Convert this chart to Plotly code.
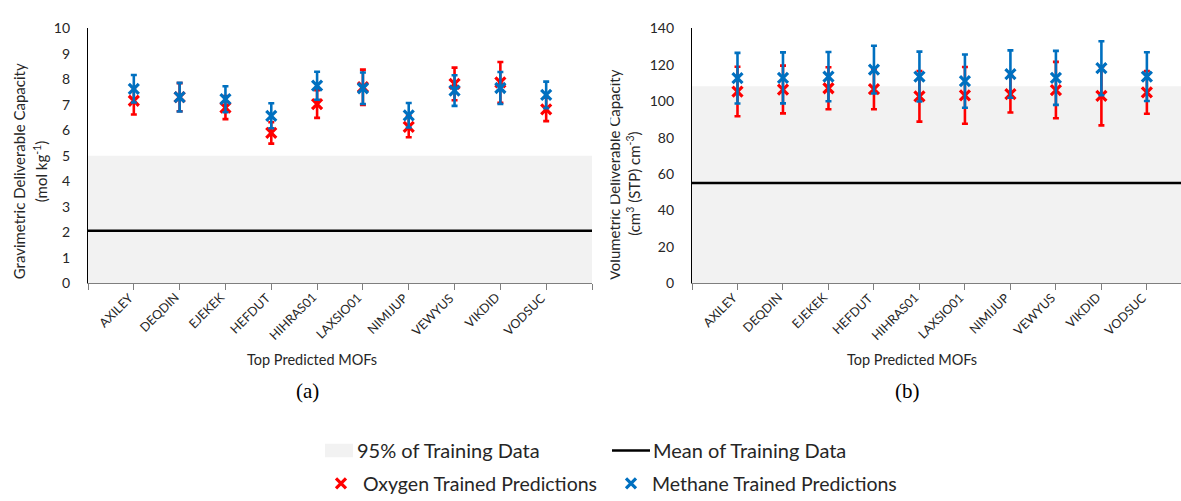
import plotly.graph_objects as go

W, H = 1181, 501

mofs = ["AXILEY", "DEQDIN", "EJEKEK", "HEFDUT", "HIHRAS01",
        "LAXSIO01", "NIMIJUP", "VEWYUS", "VIKDID", "VODSUC"]

# Gravimetric deliverable capacity (mol/kg)
grav_oxygen = [7.16, 7.30, 6.89, 5.90, 7.03, 7.69, 6.14, 7.82, 7.88, 6.82]
grav_oxygen_err = [0.54, 0.55, 0.45, 0.42, 0.54, 0.69, 0.41, 0.64, 0.80, 0.46]
grav_methane = [7.63, 7.30, 7.22, 6.57, 7.75, 7.65, 6.59, 7.56, 7.66, 7.39]
grav_methane_err = [0.54, 0.56, 0.51, 0.49, 0.55, 0.62, 0.48, 0.60, 0.63, 0.52]
grav_band_top = 5.0
grav_mean = 2.06

# Volumetric deliverable capacity (cm3 STP / cm3)
vol_oxygen = [105.3, 106.4, 107.1, 106.6, 102.7, 103.2, 103.9, 106.1, 102.9, 104.8]
vol_oxygen_err = [13.6, 13.1, 11.5, 11.0, 13.9, 15.6, 10.1, 15.5, 16.2, 11.7]
vol_methane = [112.6, 112.8, 113.5, 117.3, 113.5, 111.0, 114.9, 112.8, 118.1, 113.5]
vol_methane_err = [13.9, 14.0, 13.5, 13.1, 13.7, 14.6, 13.0, 14.8, 14.8, 13.4]
vol_band_top = 108.2
vol_mean = 55.1

RED = "#FF0000"
BLUE = "#0070C0"
BAND = "#F2F2F2"
FONT = "Lato"
TXT = "#262626"

xpos = list(range(1, len(mofs) + 1))


def px(x):
    return x / W


def py(y):
    return 1 - y / H


fig = go.Figure()


def add_series(xa, ya, vals, errs, color, name):
    fig.add_trace(go.Scatter(
        x=xpos, y=vals, mode="markers", name=name, showlegend=False,
        xaxis=xa, yaxis=ya,
        marker=dict(symbol="x-thin", size=10, color=color,
                    line=dict(color=color, width=3.2)),
        error_y=dict(type="data", array=errs, visible=True, color=color,
                     thickness=2.6, width=3),
    ))


add_series("x", "y", grav_oxygen, grav_oxygen_err, RED, "Oxygen Trained Predictions")
add_series("x", "y", grav_methane, grav_methane_err, BLUE, "Methane Trained Predictions")
add_series("x2", "y2", vol_oxygen, vol_oxygen_err, RED, "Oxygen Trained Predictions")
add_series("x2", "y2", vol_methane, vol_methane_err, BLUE, "Methane Trained Predictions")

# legend markers on an overlay axis in pixel units
fig.add_trace(go.Scatter(
    x=[341], y=[491], mode="markers", xaxis="x3", yaxis="y3", showlegend=False,
    marker=dict(symbol="x-thin", size=10, color=RED, line=dict(color=RED, width=3.2))))
fig.add_trace(go.Scatter(
    x=[631], y=[491], mode="markers", xaxis="x3", yaxis="y3", showlegend=False,
    marker=dict(symbol="x-thin", size=10, color=BLUE, line=dict(color=BLUE, width=3.2))))

tick_font = dict(family=FONT, size=14, color=TXT)
cat_font = dict(family=FONT, size=12.5, color=TXT)

left_dom_x = [px(88), px(592)]
right_dom_x = [px(692), 1.0]
dom_y = [py(284), py(20)]

common_x = dict(showgrid=False, zeroline=False, showline=True, linecolor="#7F7F7F",
                linewidth=1.2, ticks="outside", ticklen=6, tickcolor="#7F7F7F",
                tickwidth=1.2, showticklabels=False)
common_y = dict(showgrid=False, zeroline=False, showline=True, linecolor="#000000",
                linewidth=1.3, ticks="", tickfont=tick_font, ticklabelstandoff=14)

fig.update_layout(
    width=W, height=H, margin=dict(l=0, r=0, t=0, b=0),
    paper_bgcolor="white", plot_bgcolor="rgba(0,0,0,0)",
    xaxis=dict(domain=left_dom_x, range=[0, 11], anchor="y",
               tickvals=list(range(0, 12)), **common_x),
    yaxis=dict(domain=dom_y, range=[0, 10], dtick=1, anchor="x", **common_y),
    xaxis2=dict(domain=right_dom_x, range=[0, 10.75], anchor="y2",
                tickvals=list(range(0, 11)), **common_x),
    yaxis2=dict(domain=dom_y, range=[0, 140], dtick=20, anchor="x2", **common_y),
    xaxis3=dict(domain=[0, 1], range=[0, W], visible=False, fixedrange=True),
    yaxis3=dict(domain=[0, 1], range=[H, 0], visible=False, fixedrange=True, anchor="x3"),
)

shapes = [
    dict(type="rect", xref="x domain", yref="y", x0=0, x1=1, y0=0, y1=grav_band_top,
         fillcolor=BAND, line=dict(width=0), layer="below"),
    dict(type="line", xref="x domain", yref="y", x0=0, x1=1, y0=grav_mean, y1=grav_mean,
         line=dict(color="black", width=2.6), layer="below"),
    dict(type="rect", xref="x2 domain", yref="y2", x0=0, x1=1, y0=0, y1=vol_band_top,
         fillcolor=BAND, line=dict(width=0), layer="below"),
    dict(type="line", xref="x2 domain", yref="y2", x0=0, x1=1, y0=vol_mean, y1=vol_mean,
         line=dict(color="black", width=2.6), layer="below"),
    # legend swatches
    dict(type="rect", xref="paper", yref="paper", x0=px(325), x1=px(353),
         y0=py(464), y1=py(450), fillcolor=BAND, line=dict(width=0)),
    dict(type="line", xref="paper", yref="paper", x0=px(612), x1=px(650),
         y0=py(457), y1=py(457), line=dict(color="black", width=2.6)),
]
fig.update_layout(shapes=shapes)

ann = []


def text(x, y, s, size=13, family=FONT, angle=0, xanchor="center", color=TXT):
    ann.append(dict(x=px(x), y=py(y), xref="paper", yref="paper", text=s,
                    showarrow=False, textangle=angle, xanchor=xanchor, yanchor="middle",
                    font=dict(family=family, size=size, color=color)))


# rotated category labels anchored at their tick marks
for xr in ("x", "x2"):
    for xv, name in zip(xpos, mofs):
        ann.append(dict(x=xv, y=py(288), xref=xr, yref="paper", text=name,
                        showarrow=False, textangle=-45, xanchor="right", yanchor="top",
                        xshift=5, font=cat_font))

# axis titles
text(19, 168, "Gravimetric Deliverable Capacity", size=15, angle=-90)
text(40, 168, "(mol kg<sup>-1</sup>)", size=15, angle=-90)
text(614, 172, "Volumetric Deliverable Capacity", size=15, angle=-90)
text(634, 181, "(cm<sup>3</sup> (STP) cm<sup>-3</sup>)", size=15, angle=-90)
text(312, 363, "Top Predicted MOFs", size=14.5)
text(912, 363, "Top Predicted MOFs", size=14.5)
text(307, 395, "(a)", size=21, family="Liberation Serif", color="#000000")
text(907, 395, "(b)", size=21, family="Liberation Serif", color="#000000")

# clip the left edge of the right chart's title like the source
ann.append(dict(x=px(611), y=py(172), xref="paper", yref="paper", text=" ",
                showarrow=False, xanchor="right", yanchor="middle",
                width=16, height=240, bgcolor="white", borderpad=0))

# legend labels
text(355, 457, "95% of Training Data", size=20, xanchor="left")
text(651, 457, "Mean of Training Data", size=20, xanchor="left")
text(361, 491, "Oxygen Trained Predictions", size=19.5, xanchor="left")
text(650, 491, "Methane Trained Predictions", size=19.5, xanchor="left")

fig.update_layout(annotations=ann)

fig.write_html("out.html")
